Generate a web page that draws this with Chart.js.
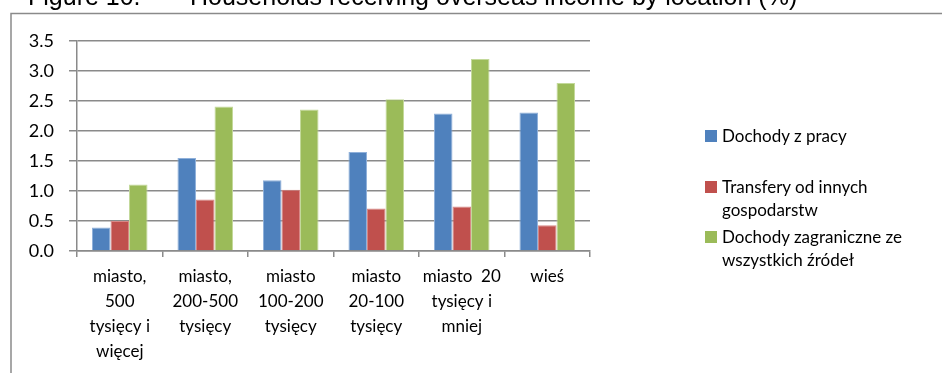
<!DOCTYPE html>
<html>
<head>
<meta charset="utf-8">
<script src="https://cdn.jsdelivr.net/npm/chart.js@4"></script>
<style>
  html, body { margin: 0; padding: 0; background: #fff; }
  #wrap { position: relative; width: 942px; height: 373px; overflow: hidden; }
  #legend { position: absolute; left: 0; top: 0; width: 942px; font-family: Lato, 'Liberation Sans', sans-serif; font-size: 17px; color: #000; }
  .lg-item { position: absolute; left: 705px; width: 237px; display: flex; align-items: flex-start; white-space: pre-line; line-height: 23px; }
  .lg-box { width: 12px; height: 12px; margin: 6px 5px 0 0; flex: none; }
</style>
</head>
<body>
<div id="wrap">
  <canvas id="chart" width="942" height="373"></canvas>
  <div id="legend"></div>
</div>
<script>
// Households receiving income from abroad, by place of residence (%)
const categories = [
  ['miasto,', '500', 'tysięcy i', 'więcej'],
  ['miasto,', '200-500', 'tysięcy'],
  ['miasto', '100-200', 'tysięcy'],
  ['miasto', '20-100', 'tysięcy'],
  ['miasto  20', 'tysięcy i', 'mniej'],
  ['wieś']
];
const seriesNames = [
  'Dochody z pracy',
  'Transfery od innych\ngospodarstw',
  'Dochody zagraniczne ze\nwszystkich źródeł'
];
const workIncome    = [0.39, 1.55, 1.18, 1.65, 2.29, 2.31];
const transfers     = [0.50, 0.86, 1.02, 0.71, 0.74, 0.43];
const abroadIncome  = [1.11, 2.41, 2.36, 2.53, 3.20, 2.80];
const yTicks = [0, 0.5, 1, 1.5, 2, 2.5, 3, 3.5];

const colors = ['#4F81BD', '#C0504D', '#9BBB59'];
const edges  = ['#8fb0da', '#d88886', '#c3d99a'];
const values = [workIncome, transfers, abroadIncome];

const gridGrey = '#8a8a8a';
const tickFont = { family: "Lato, 'Liberation Sans', sans-serif", size: 17 };

// outer frame and the heading above it (mostly cut off by the top edge)
const framePlugin = {
  id: 'frame',
  beforeDraw(chart) {
    const ctx = chart.ctx;
    ctx.save();
    ctx.fillStyle = '#000';
    ctx.font = "25px 'Liberation Sans', Arial, sans-serif";
    ctx.textBaseline = 'alphabetic';
    ctx.fillText('Figure 10.', 28, 5);
    ctx.fillText('Households receiving overseas income by location (%)', 190, 5);
    ctx.strokeStyle = gridGrey;
    ctx.lineWidth = 1.5;
    ctx.strokeRect(11, 13.5, 1000, 400);
    ctx.restore();
  }
};

const chart = new Chart(document.getElementById('chart'), {
  type: 'bar',
  data: {
    labels: categories,
    datasets: values.map((v, i) => ({
      label: seriesNames[i],
      data: v,
      backgroundColor: colors[i],
      borderColor: edges[i],
      borderWidth: 1,
      barPercentage: 1.0,
      categoryPercentage: 0.65
    }))
  },
  options: {
    responsive: false,
    animation: false,
    layout: { padding: { top: 41, right: 352, left: 0, bottom: 0 } },
    plugins: { legend: { display: false }, tooltip: { enabled: false } },
    scales: {
      x: {
        grid: { drawOnChartArea: false, color: gridGrey, lineWidth: 1.5, tickLength: 6 },
        border: { color: gridGrey, width: 1.5 },
        ticks: { color: '#000', font: { ...tickFont, lineHeight: 1.47 }, maxRotation: 0, autoSkip: false, padding: 7 },
        afterFit(scale) { scale.height = 122; }
      },
      y: {
        min: 0,
        max: 3.5,
        afterBuildTicks(scale) { scale.ticks = yTicks.map(v => ({ value: v })); },
        grid: { color: gridGrey, lineWidth: 1.5, tickLength: 8 },
        border: { color: gridGrey, width: 1.5 },
        ticks: {
          color: '#000', font: { ...tickFont, size: 18 }, padding: 15,
          callback: v => v.toFixed(1)
        },
        afterFit(scale) { scale.width = 77; }
      }
    }
  },
  plugins: [framePlugin]
});

// legend beside the plot, one entry per series
const legendTops = [124, 175, 225];
const legendEl = document.getElementById('legend');
chart.data.datasets.forEach((ds, i) => {
  const item = document.createElement('div');
  item.className = 'lg-item';
  item.style.top = legendTops[i] + 'px';
  item.innerHTML = `<span class="lg-box" style="background:${ds.backgroundColor}"></span><span>${ds.label}</span>`;
  legendEl.appendChild(item);
});
</script>
</body>
</html>
